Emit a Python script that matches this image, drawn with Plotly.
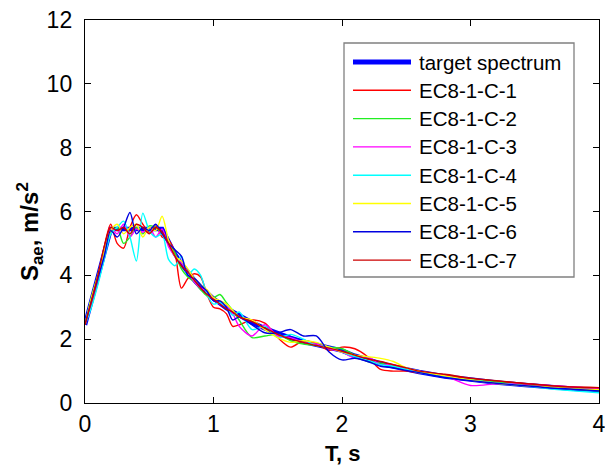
import plotly.graph_objects as go

# ---- data ----
T = [0, 0.05, 0.1, 0.15, 0.2, 0.25, 0.3, 0.35, 0.4, 0.45, 0.5, 0.55, 0.6, 0.65, 0.7, 0.75,
     0.8, 0.85, 0.9, 0.95, 1.0, 1.05, 1.1, 1.15, 1.2, 1.3, 1.4, 1.5, 1.6, 1.7, 1.8, 1.9,
     2.0, 2.1, 2.2, 2.3, 2.4, 2.5, 2.6, 2.8, 3.0, 3.2, 3.4, 3.6, 3.8, 4.0]

target_T = [0, 0.2, 0.6, 0.65, 0.7, 0.75, 0.8, 0.85, 0.9, 0.95, 1.0, 1.1, 1.2, 1.3, 1.4, 1.5,
            1.6, 1.7, 1.8, 1.9, 2.0, 2.1, 2.2, 2.3, 2.4, 2.5, 2.6, 2.8, 3.0, 3.2, 3.4, 3.6, 3.8, 4.0]
target_S = [2.45, 5.45, 5.45, 5.03, 4.67, 4.36, 4.09, 3.85, 3.63, 3.44, 3.27, 2.97, 2.73, 2.52,
            2.34, 2.18, 2.04, 1.92, 1.82, 1.72, 1.64, 1.48, 1.35, 1.24, 1.14, 1.05, 0.97, 0.83,
            0.73, 0.64, 0.57, 0.50, 0.45, 0.41]

c1 = [2.45, 3.1, 3.8, 4.9, 5.6, 5.0, 4.85, 5.5, 5.9, 5.6, 5.35, 5.55, 5.2, 5.1, 4.7, 3.6,
      3.9, 4.05, 3.95, 3.4, 3.0, 2.95, 2.8, 2.4, 2.45, 2.6, 2.5, 2.05, 1.75, 1.95, 1.85, 1.65,
      1.75, 1.7, 1.45, 1.05, 1.0, 1.0, 0.95, 0.88, 0.75, 0.68, 0.62, 0.55, 0.5, 0.48]
c2 = [2.45, 3.3, 4.0, 4.7, 5.3, 5.5, 5.0, 5.2, 5.5, 5.3, 5.55, 5.5, 5.3, 5.0, 4.7, 4.2,
      3.95, 3.8, 3.55, 3.35, 3.3, 3.4, 3.15, 2.9, 2.6, 2.05, 2.1, 2.15, 1.95, 1.85, 1.8, 1.75,
      1.7, 1.5, 1.3, 1.25, 1.15, 1.05, 0.98, 0.82, 0.72, 0.65, 0.56, 0.5, 0.44, 0.38]
c3 = [2.45, 3.2, 3.9, 4.6, 5.5, 5.3, 5.6, 5.2, 5.45, 5.35, 5.5, 5.2, 5.45, 4.9, 4.6, 4.4,
      4.1, 3.8, 3.6, 3.5, 3.3, 3.1, 3.05, 2.8, 2.4, 2.1, 2.45, 2.1, 2.05, 1.9, 1.85, 1.7,
      1.6, 1.4, 1.45, 1.2, 1.2, 1.05, 1.0, 0.85, 0.55, 0.6, 0.6, 0.55, 0.5, 0.45]
c4 = [2.45, 3.0, 3.7, 4.5, 5.3, 5.5, 5.7, 5.2, 4.45, 5.95, 5.4, 5.2, 5.3, 4.5, 4.3, 4.6,
      4.0, 4.2, 4.0, 3.4, 3.1, 3.15, 3.0, 2.75, 2.85, 2.3, 2.4, 2.05, 2.15, 2.0, 1.8, 1.75,
      1.6, 1.45, 1.35, 1.2, 1.15, 1.05, 0.95, 0.82, 0.72, 0.63, 0.55, 0.45, 0.38, 0.32]
c5 = [2.45, 3.3, 4.0, 4.8, 5.4, 5.6, 5.3, 5.5, 5.6, 5.2, 5.5, 5.4, 5.85, 5.1, 4.6, 4.45,
      4.2, 3.9, 3.7, 3.55, 3.3, 3.2, 3.1, 2.9, 2.7, 2.6, 2.3, 2.05, 1.9, 1.95, 1.9, 1.75,
      1.6, 1.5, 1.45, 1.4, 1.3, 1.1, 1.0, 0.85, 0.72, 0.62, 0.55, 0.5, 0.45, 0.42]
c6 = [2.45, 3.2, 3.9, 4.6, 5.4, 5.2, 5.5, 5.97, 5.3, 5.5, 5.4, 5.6, 5.3, 5.0, 4.8, 4.6,
      4.0, 3.9, 3.7, 3.5, 3.2, 3.2, 3.0, 2.6, 2.7, 2.45, 2.2, 2.2, 2.3, 2.1, 2.1, 1.6,
      1.35, 1.4, 1.3, 1.15, 1.1, 1.02, 0.95, 0.8, 0.7, 0.62, 0.55, 0.48, 0.43, 0.38]
c7 = [2.45, 3.2, 4.0, 4.9, 5.5, 5.4, 5.5, 5.3, 5.6, 5.5, 5.3, 5.5, 5.35, 5.0, 4.6, 4.3,
      4.1, 3.85, 3.6, 3.4, 3.25, 3.1, 2.95, 2.85, 2.7, 2.55, 2.35, 2.15, 2.0, 1.9, 1.8, 1.72,
      1.62, 1.5, 1.38, 1.3, 1.2, 1.1, 1.0, 0.9, 0.78, 0.7, 0.62, 0.55, 0.5, 0.48]

names = ["EC8-1-C-1", "EC8-1-C-2", "EC8-1-C-3", "EC8-1-C-4",
         "EC8-1-C-5", "EC8-1-C-6", "EC8-1-C-7"]
records = [c1, c2, c3, c4, c5, c6, c7]
colors = ["#FF0000", "#22EE22", "#FF00FF", "#00FFFF", "#FFFF00", "#0000E0", "#CC0000"]
target_name = "target spectrum"
target_color = "#0000FF"

x_ticks = [0, 1, 2, 3, 4]
y_ticks = [0, 2, 4, 6, 8, 10, 12]
x_title = "<b>T, s</b>"
y_title = "<b>S<sub>ae</sub>, m/s<sup>2</sup></b>"

# ---- figure ----
W, H = 605, 469
L, R, TM, B = 85, 6, 20, 66
FONT = "Liberation Sans, Arial, sans-serif"

fig = go.Figure()
fig.add_trace(go.Scatter(x=target_T, y=target_S, mode="lines", name=target_name,
                         line=dict(color=target_color, width=4.5), showlegend=False))
for n, vals, c in zip(names, records, colors):
    fig.add_trace(go.Scatter(x=T, y=vals, mode="lines", name=n,
                             line=dict(color=c, width=1.4, shape="spline", smoothing=0.8),
                             showlegend=False))

axis_common = dict(showline=True, linecolor="black", linewidth=1.4, mirror="ticks",
                   ticks="inside", ticklen=6, tickcolor="black", showgrid=False,
                   zeroline=False, automargin=False, ticklabeloverflow="allow",
                   tickfont=dict(family=FONT, size=23, color="black"))
fig.update_xaxes(range=[0, 4], tickvals=x_ticks, ticklabelstandoff=0, **axis_common)
fig.update_yaxes(range=[0, 12], tickvals=y_ticks, ticklabelstandoff=7, **axis_common)

# ---- pixel -> paper helpers ----
pw, ph = W - L - R, H - TM - B
def px(x):
    return (x - L) / pw
def py(y):
    return (H - B - y) / ph

annotations = [
    dict(xref="paper", yref="paper", x=px(342), y=py(453), text=x_title, showarrow=False,
         xanchor="center", yanchor="middle", font=dict(family=FONT, size=22, color="black")),
    dict(xref="paper", yref="paper", x=px(30), y=py(232), text=y_title, showarrow=False,
         textangle=-90, xanchor="center", yanchor="middle",
         font=dict(family=FONT, size=24, color="black")),
]

# ---- manual legend ----
shapes = [dict(type="rect", xref="paper", yref="paper", x0=px(344), x1=px(574),
               y0=py(277), y1=py(43), fillcolor="white",
               line=dict(color="#808080", width=1.3), layer="above")]
legend_names = [target_name] + names
legend_colors = [target_color] + colors
row_y0, row_step = 62, 28.3
for i, (n, c) in enumerate(zip(legend_names, legend_colors)):
    yy = row_y0 + i * row_step
    shapes.append(dict(type="line", xref="paper", yref="paper", x0=px(353), x1=px(411),
                       y0=py(yy), y1=py(yy), line=dict(color=c, width=5 if i == 0 else 1.4),
                       layer="above"))
    annotations.append(dict(xref="paper", yref="paper", x=px(417), y=py(yy), text=n,
                            showarrow=False, xanchor="left", yanchor="middle",
                            font=dict(family=FONT, size=20.5, color="black")))

fig.update_layout(width=W, height=H, margin=dict(l=L, r=R, t=TM, b=B),
                  paper_bgcolor="white", plot_bgcolor="white",
                  shapes=shapes, annotations=annotations, showlegend=False)

fig.write_html("out.html", config={"displayModeBar": False},
               post_script="document.body.style.margin='0';"
                           "document.body.style.overflow='hidden';")
